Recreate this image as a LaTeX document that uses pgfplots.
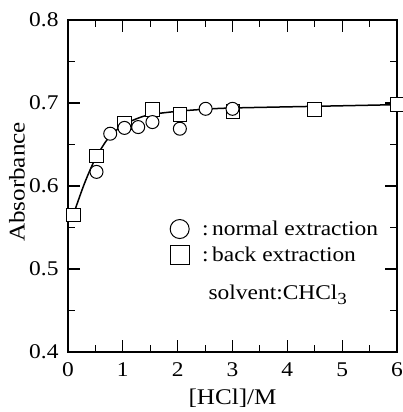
\documentclass[border=0pt]{standalone}
\usepackage{pgfplots}
\pgfplotsset{compat=1.18}
\usepackage{fontspec}
\setmainfont[FakeStretch=1.12]{Liberation Serif}

\pgfplotstableread{
x y
0.10 0.565
0.52 0.636
1.03 0.676
1.54 0.692
2.04 0.686
3.01 0.690
4.50 0.692
6.00 0.698
}\backext

\pgfplotstableread{
x y
0.52 0.617
0.77 0.663
1.03 0.670
1.28 0.671
1.54 0.677
2.04 0.669
2.51 0.693
3.00 0.693
}\normext

\pgfplotstableread{
x y
0.10 0.566
0.30 0.603
0.50 0.633
0.75 0.659
1.00 0.673
1.25 0.681
1.50 0.686
2.00 0.690
2.50 0.6925
3.00 0.694
4.50 0.696
6.00 0.698
}\fitline

\begin{document}
\begin{tikzpicture}
\path[use as bounding box] (-68bp,-60bp) rectangle (335bp,352bp);
\begin{axis}[
  at={(0,0)}, anchor=south west,
  scale only axis, width=329bp, height=332bp,
  xmin=0, xmax=6, ymin=0.4, ymax=0.8,
  xtick={0,1,2,3,4,5,6},
  minor xtick={0.5,1.5,2.5,3.5,4.5,5.5},
  ytick={0.4,0.5,0.6,0.7,0.8},
  minor ytick={0.45,0.55,0.65,0.75},
  tick align=inside,
  major tick length=12bp, minor tick length=7bp,
  every tick/.style={black, line width=1.1bp},
  axis line style={line width=1.3bp},
  /pgf/number format/assume math mode=true,
  yticklabel style={/pgf/number format/fixed, /pgf/number format/fixed zerofill, /pgf/number format/precision=1, xshift=-6bp},
  ticklabel style={font=\fontsize{21}{24}\selectfont},
  xticklabel style={yshift=-7bp},
  xlabel={[HCl]/M}, ylabel={Absorbance},
  every axis x label/.style={at={(axis description cs:0.5,0)}, anchor=center, yshift=-46bp, font=\fontsize{22.5}{25}\selectfont},
  every axis y label/.style={at={(axis description cs:-0.155,0.512)}, anchor=center, rotate=90, font=\fontsize{22.5}{25}\selectfont},
  clip=false,
  legend style={at={(axis cs:1.86,0.5325)}, anchor=west, draw=none, fill=none,
    font=\fontsize{21}{24}\selectfont, row sep=6bp, inner sep=0pt},
  legend cell align=left,
]
\addlegendimage{legend image code/.code={\draw[mark=*, mark size=9.5bp, mark options={fill=white, draw=black, line width=1bp}] plot coordinates {(0.35cm,0cm)};}}
\addlegendentry{\hspace{11bp}:\,normal extraction}
\addlegendimage{legend image code/.code={\draw[mark=square*, mark size=9.5bp, mark options={fill=white, draw=black, line width=1bp}] plot coordinates {(0.35cm,0cm)};}}
\addlegendentry{\hspace{11bp}:\,back extraction}

\addplot[smooth, line width=1.5bp, black, forget plot] table {\fitline};
\addplot[only marks, mark=square*, mark size=6.75bp, mark options={fill=white, draw=black, line width=1bp}, forget plot] table {\backext};
\addplot[only marks, mark=*, mark size=6.5bp, mark options={fill=white, draw=black, line width=1bp}, forget plot] table {\normext};

\node[anchor=west, font=\fontsize{21}{24}\selectfont] at (axis cs:2.50,0.469) {solvent:CHCl\raisebox{-0.6ex}{\fontsize{17}{17}\selectfont 3}};
\end{axis}
\end{tikzpicture}
\end{document}
